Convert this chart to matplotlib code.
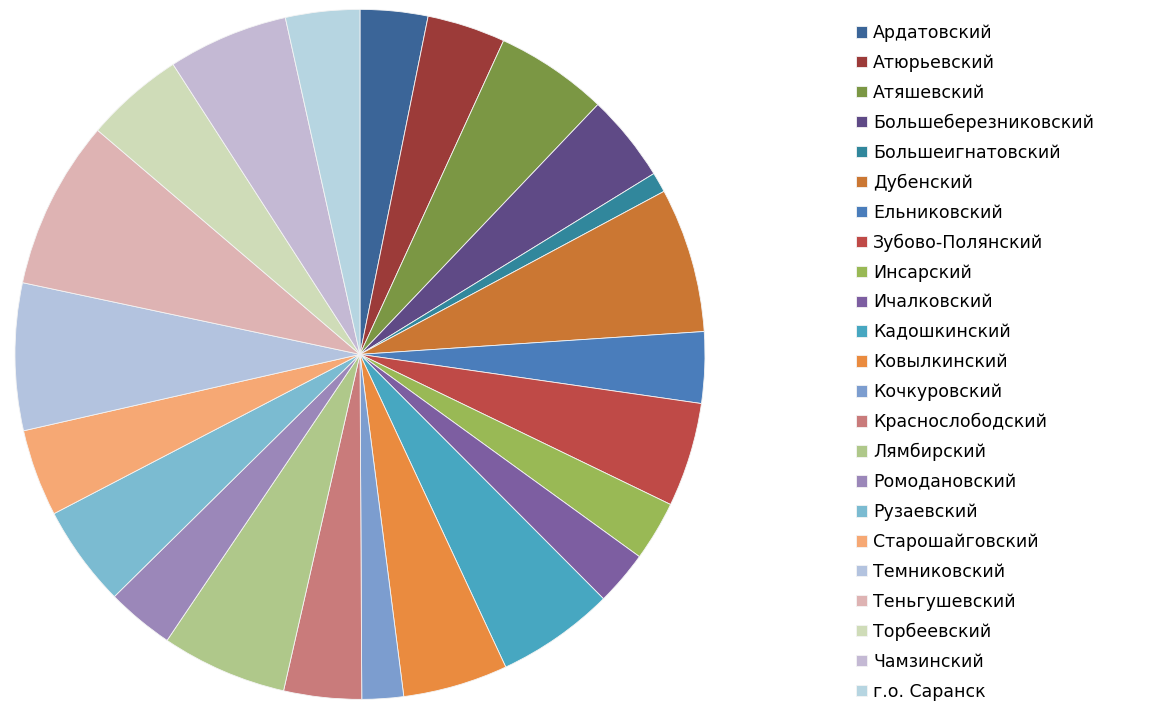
import matplotlib
matplotlib.use('Agg')
import matplotlib.pyplot as plt

# районы и их доли (градусы сектора)
rayony = ['Ардатовский', 'Атюрьевский', 'Атяшевский', 'Большеберезниковский',
          'Большеигнатовский', 'Дубенский', 'Ельниковский', 'Зубово-Полянский',
          'Инсарский', 'Ичалковский', 'Кадошкинский', 'Ковылкинский',
          'Кочкуровский', 'Краснослободский', 'Лямбирский', 'Ромодановский',
          'Рузаевский', 'Старошайговский', 'Темниковский', 'Теньгушевский',
          'Торбеевский', 'Чамзинский', 'г.о. Саранск']
doli = [11.4, 13.2, 19.0, 14.8, 3.4, 24.4, 12.0, 17.6, 10.1, 9.2, 19.9, 17.7,
        7.0, 13.1, 21.2, 11.4, 17.1, 14.7, 24.8, 28.5, 16.7, 20.3, 12.5]
cveta = ['#3b6598', '#9c3b39', '#7b9744', '#5f4a86', '#31879c', '#cb7733',
         '#4a7dbb', '#bf4a47', '#99b955', '#7d5ea1', '#47a7c1', '#ea8b3f',
         '#7c9dcf', '#c97b7b', '#afc88a', '#9b87b9', '#7bbbd1', '#f6a874',
         '#b3c3df', '#deb3b3', '#cfdcb8', '#c4b9d4', '#b6d5e1']

fig = plt.figure(figsize=(11.51, 7.05), dpi=100)
ax = fig.add_axes([0.013, 0.008, 0.5995, 0.9787])
wedges, _ = ax.pie(doli, colors=cveta, startangle=90, counterclock=False,
                   radius=1.0, wedgeprops={'edgecolor': '#f4f4f4', 'linewidth': 0.6})
ax.set_xlim(-1.0, 1.0)
ax.set_ylim(-1.0, 1.0)
ax.set_aspect('equal')

fig.legend(wedges, rayony, loc='upper left', bbox_to_anchor=(0.7376, 0.976),
           frameon=False, fontsize=12.5, handlelength=0.65, handleheight=0.65,
           handletextpad=0.35, labelspacing=0.684, borderaxespad=0)

plt.savefig('out.png', dpi=100)
